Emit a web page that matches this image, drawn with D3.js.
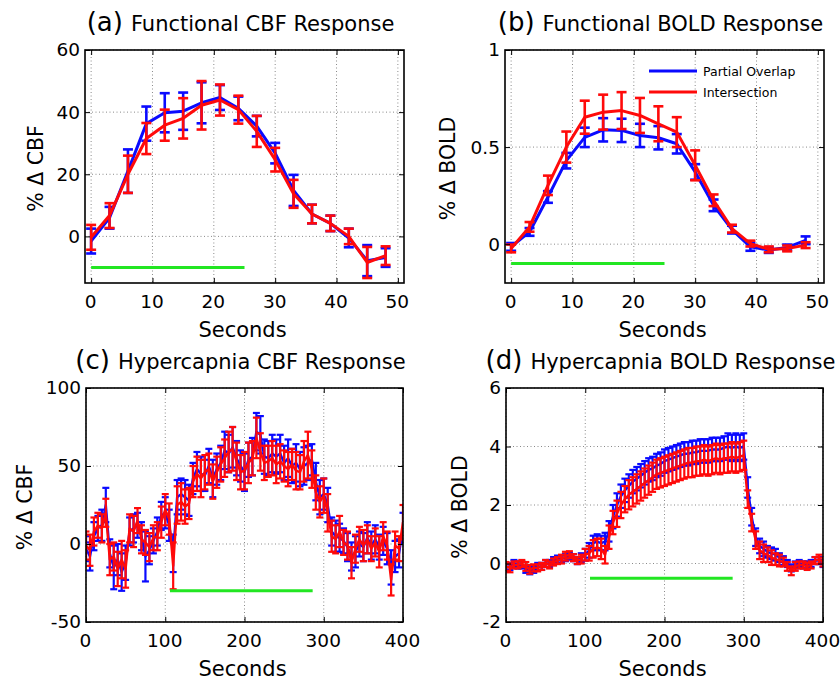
<!DOCTYPE html>
<html>
<head>
<meta charset="utf-8">
<script src="https://cdn.jsdelivr.net/npm/d3@7"></script>
<style>
  body { margin: 0; background: #fff; }
  svg { display: block; font-family: "DejaVu Sans", sans-serif; }
  .mreza line { stroke: #8a8a8a; stroke-width: 1; stroke-dasharray: 1,2.5; }
</style>
</head>
<body>
<div id="okvir"></div>
<script>
// 1. Podaci

const funcTimes = [0, 3, 6, 9, 12, 15, 18, 21, 24, 27, 30, 33, 36, 39, 42, 45, 48]

const cbfBlue    = [-1.5, 6, 21, 36.3, 39.8, 40.3, 43, 44.7, 41.2, 35.5, 26.8, 14.8, 7.2, 4.2, -0.5, -7.8, -6.8]
const cbfBlueErr = [4, 3.5, 7, 5.5, 6.3, 6, 6.6, 4, 3.8, 3.3, 3.3, 5, 3, 2.5, 3, 5, 3]
const cbfRed     = [-0.3, 6.7, 20, 31.5, 35.8, 38, 42.2, 43.9, 40.8, 33.8, 24.7, 13.7, 7.2, 4.2, 0, -8.4, -6.2]
const cbfRedErr  = [4, 4, 6, 5, 5, 6.5, 7.8, 5, 4.5, 5, 3.8, 4.5, 3, 2.5, 2.5, 5, 3]

const boldBlue    = [-0.014, 0.063, 0.243, 0.43, 0.55, 0.589, 0.586, 0.56, 0.548, 0.517, 0.372, 0.2, 0.075, -0.014, -0.03, -0.017, 0.02]
const boldBlueErr = [0.02, 0.02, 0.03, 0.04, 0.05, 0.06, 0.06, 0.06, 0.06, 0.05, 0.04, 0.03, 0.02, 0.02, 0.015, 0.015, 0.02]
const boldRed     = [-0.022, 0.089, 0.303, 0.5, 0.654, 0.68, 0.688, 0.663, 0.62, 0.577, 0.406, 0.226, 0.08, 0.003, -0.027, -0.022, -0.005]
const boldRedErr  = [0.02, 0.025, 0.05, 0.08, 0.085, 0.09, 0.095, 0.09, 0.09, 0.077, 0.077, 0.03, 0.02, 0.015, 0.015, 0.015, 0.015]

const hyperTimes = [
  0, 5, 10, 15, 20, 25, 30, 35, 40, 45,
  50, 55, 60, 65, 70, 75, 80, 85, 90, 95,
  100, 105, 110, 115, 120, 125, 130, 135, 140, 145,
  150, 155, 160, 165, 170, 175, 180, 185, 190, 195,
  200, 205, 210, 215, 220, 225, 230, 235, 240, 245,
  250, 255, 260, 265, 270, 275, 280, 285, 290, 295,
  300, 305, 310, 315, 320, 325, 330, 335, 340, 345,
  350, 355, 360, 365, 370, 375, 380, 385, 390, 395,
  400]

const hyperCbfBlue = [
  -3, -8, 5, 10, 12, 25, -6, -15, -10, -18,
  -12, 8, 10, 12, 5, -8, -4, 2, 8, 18,
  20, 12, -6, 30, 32, 30, 28, 42, 48, 45,
  44, 50, 42, 48, 52, 60, 58, 62, 55, 50,
  46, 54, 56, 72, 70, 56, 55, 58, 56, 58,
  52, 55, 50, 52, 48, 50, 52, 54, 40, 30,
  32, 25, 8, 5, 4, 2, -2, -8, -5, 0,
  -2, 4, -1, 3, -2, 2, -3, -15, -8, -6,
  10]
const hyperCbfBlueErr = [
  8, 9, 9, 8, 10, 11, 9, 14, 10, 12,
  11, 9, 9, 8, 9, 16, 9, 8, 9, 9,
  10, 10, 12, 11, 10, 11, 10, 10, 11, 11,
  10, 11, 12, 10, 11, 12, 12, 13, 11, 10,
  12, 11, 12, 12, 12, 11, 11, 12, 11, 12,
  11, 12, 11, 12, 11, 12, 11, 10, 12, 11,
  10, 11, 9, 10, 9, 8, 9, 9, 10, 8,
  9, 10, 9, 9, 8, 9, 10, 11, 10, 9,
  10]
const hyperCbfRed = [
  -1, -4, 8, 12, 10, 20, -10, -8, -16, -10,
  -16, 10, 8, 15, 3, 1, -2, 4, 5, 14,
  22, 16, -14, 25, 27, 24, 26, 40, 45, 42,
  46, 48, 40, 46, 51, 55, 59, 61, 53, 46,
  47, 52, 55, 68, 59, 52, 53, 55, 51, 53,
  50, 48, 51, 47, 46, 53, 57, 48, 33, 27,
  31, 20, 5, 3, 8, 1, -1, -12, -3, 3,
  -1, 3, -3, 1, -5, 5, -1, -23, -1, -3,
  14]
const hyperCbfRedErr = [
  9, 10, 9, 8, 9, 9, 10, 9, 11, 12,
  12, 9, 10, 8, 9, 8, 9, 8, 9, 10,
  10, 10, 15, 12, 12, 11, 10, 10, 11, 12,
  11, 10, 11, 10, 11, 12, 13, 14, 12, 11,
  12, 13, 11, 13, 12, 11, 10, 11, 12, 11,
  10, 11, 10, 12, 11, 13, 15, 12, 11, 10,
  11, 12, 10, 9, 10, 8, 9, 10, 9, 8,
  10, 9, 8, 9, 10, 9, 9, 10, 9, 8,
  11]

const hyperBoldBlue = [
  -0.15, -0.1, 0.0, -0.05, -0.05, -0.2, -0.25, -0.2, -0.1, -0.1,
  0.0, 0.0, 0.1, 0.15, 0.15, 0.2, 0.25, 0.2, 0.1, 0.2,
  0.3, 0.45, 0.7, 0.75, 0.7, 0.75, 1.1, 1.6, 2.0, 2.3,
  2.5, 2.65, 2.8, 2.9, 3.0, 3.1, 3.2, 3.25, 3.35, 3.4,
  3.5, 3.55, 3.6, 3.65, 3.7, 3.75, 3.75, 3.8, 3.8, 3.85,
  3.85, 3.85, 3.9, 3.9, 3.9, 3.95, 4.0, 3.95, 4.0, 3.95,
  4.0, 2.6, 1.6, 0.9, 0.6, 0.5, 0.4, 0.35, 0.3, 0.2,
  0.1, 0.0, -0.15, -0.05, 0.0, -0.05, -0.05, 0.0, 0.1, 0.1,
  0.0]
const hyperBoldBlueErr = [
  0.12, 0.12, 0.12, 0.12, 0.12, 0.12, 0.12, 0.12, 0.12, 0.12,
  0.12, 0.12, 0.12, 0.12, 0.12, 0.12, 0.12, 0.12, 0.12, 0.15,
  0.2, 0.25, 0.25, 0.25, 0.25, 0.3, 0.35, 0.4, 0.4, 0.4,
  0.4, 0.4, 0.4, 0.4, 0.4, 0.4, 0.4, 0.4, 0.4, 0.4,
  0.4, 0.4, 0.4, 0.4, 0.4, 0.4, 0.4, 0.4, 0.4, 0.4,
  0.4, 0.4, 0.4, 0.4, 0.4, 0.4, 0.45, 0.45, 0.45, 0.45,
  0.45, 0.35, 0.3, 0.3, 0.25, 0.25, 0.2, 0.2, 0.2, 0.15,
  0.15, 0.12, 0.12, 0.12, 0.12, 0.12, 0.12, 0.12, 0.12, 0.12,
  0.12]
const hyperBoldRed = [
  -0.1, -0.15, -0.05, -0.05, 0.0, -0.1, -0.2, -0.15, -0.15, -0.1,
  0.0, -0.05, 0.05, 0.1, 0.15, 0.25, 0.3, 0.2, 0.1, 0.15,
  0.3, 0.35, 0.5, 0.55, 0.5, 0.3, 0.9, 1.4, 1.7, 2.0,
  2.2, 2.35, 2.45, 2.55, 2.65, 2.75, 2.85, 2.95, 3.05, 3.1,
  3.15, 3.2, 3.25, 3.3, 3.35, 3.4, 3.45, 3.45, 3.5, 3.5,
  3.55, 3.5, 3.55, 3.6, 3.55, 3.6, 3.6, 3.65, 3.6, 3.65,
  3.7, 2.2, 1.4, 0.8, 0.45, 0.35, 0.3, 0.2, 0.15, 0.1,
  0.05, -0.1, -0.25, -0.1, -0.05, -0.05, -0.1, -0.05, 0.1, 0.15,
  0.05]
const hyperBoldRedErr = [
  0.15, 0.15, 0.12, 0.12, 0.12, 0.15, 0.15, 0.12, 0.12, 0.12,
  0.12, 0.12, 0.12, 0.12, 0.15, 0.15, 0.12, 0.12, 0.12, 0.15,
  0.2, 0.25, 0.3, 0.3, 0.35, 0.3, 0.4, 0.4, 0.45, 0.45,
  0.45, 0.5, 0.5, 0.5, 0.5, 0.5, 0.5, 0.5, 0.5, 0.5,
  0.5, 0.5, 0.5, 0.5, 0.5, 0.5, 0.5, 0.5, 0.5, 0.5,
  0.5, 0.5, 0.5, 0.5, 0.5, 0.5, 0.5, 0.5, 0.5, 0.5,
  0.5, 0.3, 0.3, 0.3, 0.3, 0.3, 0.25, 0.25, 0.2, 0.2,
  0.15, 0.15, 0.15, 0.15, 0.12, 0.12, 0.12, 0.12, 0.12, 0.15,
  0.15]

// stimulus bars: [start, end, level]
const funcCbfStim   = [0, 25, -10]
const funcBoldStim  = [0, 25, -0.1]
const hyperCbfStim  = [106, 286, -30]
const hyperBoldStim = [106, 286, -0.5]

const funcXTicks  = [0, 10, 20, 30, 40, 50]
const hyperXTicks = [0, 100, 200, 300, 400]
const cbfYTicks   = [0, 20, 40, 60]
const boldYTicks  = [0, 0.5, 1]
const hcbfYTicks  = [-50, 0, 50, 100]
const hboldYTicks = [-2, 0, 2, 4, 6]

const legendNames = ["Partial Overlap", "Intersection"]

// 2. Okvir

const plava = "#0a0aff"
const crvena = "#ff0a0a"
const zelena = "#22e622"

const svg = d3.select("#okvir")
  .append("svg")
    .attr("width", 840)
    .attr("height", 684)

function crtajPanel(p) {
  const x = d3.scaleLinear().domain(p.xDomain).range([p.left, p.right])
  const y = d3.scaleLinear().domain(p.yDomain).range([p.bottom, p.top])
  const g = svg.append("g")

  const clipId = "clip-" + p.slovo
  g.append("clipPath").attr("id", clipId)
    .append("rect")
      .attr("x", p.left).attr("y", p.top)
      .attr("width", p.right - p.left).attr("height", p.bottom - p.top)

  // mreza
  const mreza = g.append("g").attr("class", "mreza")
  mreza.selectAll("line.v").data(p.xTicks).join("line")
      .attr("class", "v")
      .attr("x1", d => x(d)).attr("x2", d => x(d))
      .attr("y1", p.top).attr("y2", p.bottom)
  mreza.selectAll("line.h").data(p.yTicks).join("line")
      .attr("class", "h")
      .attr("x1", p.left).attr("x2", p.right)
      .attr("y1", d => y(d)).attr("y2", d => y(d))

  // podaci
  const podaci = g.append("g").attr("clip-path", `url(#${clipId})`)
  p.series.forEach(s => {
    const tocke = s.values.map((v, i) => ({ t: p.times[i], v: v, e: s.err[i] }))
    const sg = podaci.append("g")
        .attr("stroke", s.color)
        .attr("fill", "none")
    sg.selectAll("line.bar").data(tocke).join("line")
        .attr("class", "bar")
        .attr("stroke-width", p.barWidth)
        .attr("x1", d => x(d.t)).attr("x2", d => x(d.t))
        .attr("y1", d => y(d.v - d.e)).attr("y2", d => y(d.v + d.e))
    ;["lo", "hi"].forEach(k => {
      sg.selectAll("line.cap-" + k).data(tocke).join("line")
          .attr("class", "cap-" + k)
          .attr("stroke-width", p.barWidth)
          .attr("x1", d => x(d.t) - p.cap).attr("x2", d => x(d.t) + p.cap)
          .attr("y1", d => y(k == "lo" ? d.v - d.e : d.v + d.e))
          .attr("y2", d => y(k == "lo" ? d.v - d.e : d.v + d.e))
    })
    sg.append("path")
        .datum(tocke)
        .attr("stroke-width", p.lineWidth)
        .attr("stroke-linejoin", "round")
        .attr("d", d3.line().x(d => x(d.t)).y(d => y(d.v)))
  })

  // stimulus
  g.append("line")
      .attr("x1", x(p.stim[0])).attr("x2", x(p.stim[1]))
      .attr("y1", y(p.stim[2])).attr("y2", y(p.stim[2]))
      .attr("stroke", zelena)
      .attr("stroke-width", 3)

  // osi
  const stil = sel => sel.call(s => s.select(".domain").remove())
      .attr("font-family", null).attr("font-size", 18.5)
  const fmt = d => String(d)

  g.append("g").attr("transform", `translate(0,${p.bottom})`)
    .call(d3.axisBottom(x).tickValues(p.xTicks).tickFormat(fmt).tickSizeInner(-5).tickSizeOuter(0).tickPadding(12))
    .call(stil)
    .selectAll(".tick text").attr("dx", -1)
  g.append("g").attr("transform", `translate(0,${p.top})`)
    .call(d3.axisTop(x).tickValues(p.xTicks).tickFormat(() => "").tickSizeInner(-5).tickSizeOuter(0))
    .call(stil)
  g.append("g").attr("transform", `translate(${p.left},0)`)
    .call(d3.axisLeft(y).tickValues(p.yTicks).tickFormat(fmt).tickSizeInner(-5).tickSizeOuter(0).tickPadding(5))
    .call(stil)
  g.append("g").attr("transform", `translate(${p.right},0)`)
    .call(d3.axisRight(y).tickValues(p.yTicks).tickFormat(() => "").tickSizeInner(-5).tickSizeOuter(0))
    .call(stil)

  g.selectAll(".tick line").attr("stroke", "#000").attr("stroke-width", 1)
  g.selectAll(".tick text").attr("fill", "#000")

  g.append("rect")
      .attr("x", p.left).attr("y", p.top)
      .attr("width", p.right - p.left).attr("height", p.bottom - p.top)
      .attr("fill", "none")
      .attr("stroke", "#000")
      .attr("stroke-width", 1.6)

  // naslov
  const naslov = g.append("text")
      .attr("x", (p.left + p.right) / 2 - 4)
      .attr("y", p.top - 19)
      .attr("text-anchor", "middle")
      .attr("fill", "#000")
  naslov.append("tspan").attr("font-size", 26).text(`(${p.slovo})`)
  naslov.append("tspan").attr("font-size", 21).attr("dx", 8).text(p.naslov)

  g.append("text")
      .attr("x", (p.left + p.right) / 2 - 2)
      .attr("y", p.bottom + 54)
      .attr("text-anchor", "middle")
      .attr("font-size", 21)
      .attr("fill", "#000")
      .text("Seconds")

  g.append("text")
      .attr("transform", `translate(${p.yLabelX},${(p.top + p.bottom) / 2 + 2}) rotate(-90)`)
      .attr("text-anchor", "middle")
      .attr("font-size", 20.5)
      .attr("fill", "#000")
      .text(p.yLabel)

  // legenda
  if (p.legenda) {
    const lg = g.append("g")
    p.series.forEach((s, i) => {
      const ly = p.top + 21 + i * 21
      lg.append("line")
          .attr("x1", p.right - 175).attr("x2", p.right - 127)
          .attr("y1", ly).attr("y2", ly)
          .attr("stroke", s.color).attr("stroke-width", 3)
      lg.append("text")
          .attr("x", p.right - 121).attr("y", ly + 4.5)
          .attr("font-size", 12.5)
          .attr("fill", "#000")
          .text(legendNames[i])
    })
  }
}

// 3. Paneli

crtajPanel({
  slovo: "a", naslov: "Functional CBF Response", yLabel: "% \u0394 CBF", yLabelX: 43,
  left: 85, right: 404, top: 50, bottom: 283,
  xDomain: [-1, 51], yDomain: [-15, 60],
  xTicks: funcXTicks, yTicks: cbfYTicks, times: funcTimes,
  lineWidth: 3, barWidth: 2.6, cap: 5,
  stim: funcCbfStim,
  series: [
    { values: cbfBlue, err: cbfBlueErr, color: plava },
    { values: cbfRed, err: cbfRedErr, color: crvena },
  ],
})

crtajPanel({
  slovo: "b", naslov: "Functional BOLD Response", yLabel: "% \u0394 BOLD", yLabelX: 455,
  left: 505, right: 824, top: 50, bottom: 283,
  xDomain: [-1, 51], yDomain: [-0.2, 1],
  xTicks: funcXTicks, yTicks: boldYTicks, times: funcTimes,
  lineWidth: 3, barWidth: 2.6, cap: 5,
  stim: funcBoldStim, legenda: true,
  series: [
    { values: boldBlue, err: boldBlueErr, color: plava },
    { values: boldRed, err: boldRedErr, color: crvena },
  ],
})

crtajPanel({
  slovo: "c", naslov: "Hypercapnia CBF Response", yLabel: "% \u0394 CBF", yLabelX: 32,
  left: 86, right: 403, top: 388, bottom: 622,
  xDomain: [0, 400], yDomain: [-50, 100],
  xTicks: hyperXTicks, yTicks: hcbfYTicks, times: hyperTimes,
  lineWidth: 2.4, barWidth: 2.2, cap: 3.5,
  stim: hyperCbfStim,
  series: [
    { values: hyperCbfBlue, err: hyperCbfBlueErr, color: plava },
    { values: hyperCbfRed, err: hyperCbfRedErr, color: crvena },
  ],
})

crtajPanel({
  slovo: "d", naslov: "Hypercapnia BOLD Response", yLabel: "% \u0394 BOLD", yLabelX: 467,
  left: 506, right: 823, top: 388, bottom: 622,
  xDomain: [0, 400], yDomain: [-2, 6],
  xTicks: hyperXTicks, yTicks: hboldYTicks, times: hyperTimes,
  lineWidth: 2.4, barWidth: 2.2, cap: 3.5,
  stim: hyperBoldStim,
  series: [
    { values: hyperBoldBlue, err: hyperBoldBlueErr, color: plava },
    { values: hyperBoldRed, err: hyperBoldRedErr, color: crvena },
  ],
})
</script>
</body>
</html>
